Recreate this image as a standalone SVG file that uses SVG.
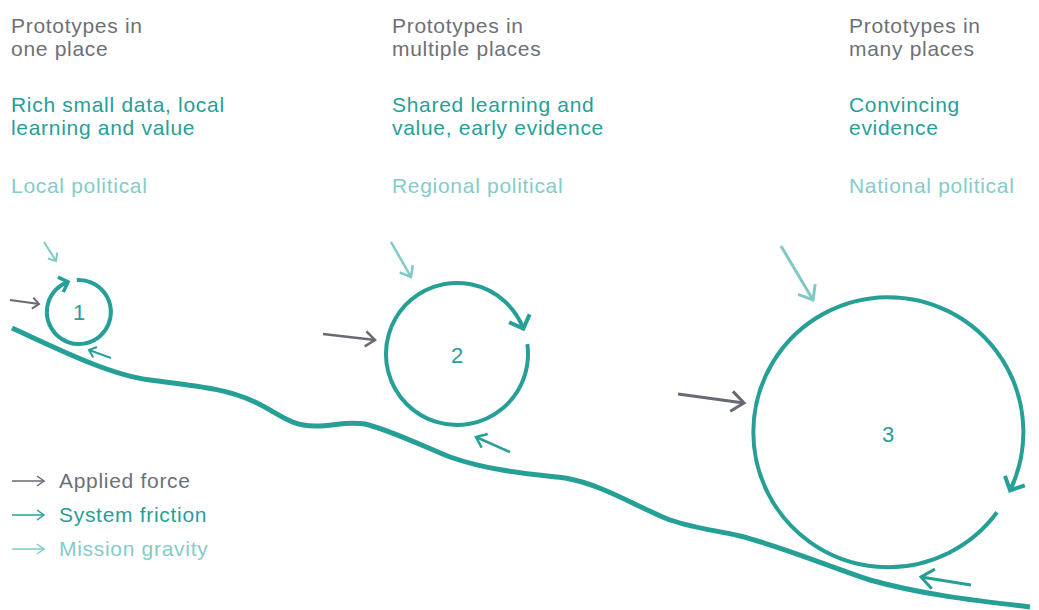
<svg xmlns="http://www.w3.org/2000/svg" width="1039" height="610" viewBox="0 0 1039 610">
<style>
text{font-family:"Liberation Sans",Arial,sans-serif;font-size:21px;letter-spacing:0.7px}
.g{fill:#6d7078}.t{fill:#26a096}.l{fill:#84ccc7}
.num{font-size:22px;text-anchor:middle;fill:#26a096;letter-spacing:0}
.ring{fill:none;stroke:#26a096;stroke-width:4}
.ag{stroke:#676a72;fill:none}.at{stroke:#26a096;fill:none}.al{stroke:#7fcac5;fill:none}
.s{stroke-width:2}.m{stroke-width:2.5}.b{stroke-width:3}.x{stroke-width:1.5}
</style>
<defs>
<marker id="gs" markerUnits="userSpaceOnUse" orient="auto" markerWidth="30" markerHeight="30" overflow="visible"><path d="M-6.5,-5.5L0,0L-6.5,5.5" fill="none" stroke="#676a72" stroke-width="2"/></marker>
<marker id="gm" markerUnits="userSpaceOnUse" orient="auto" markerWidth="30" markerHeight="30" overflow="visible"><path d="M-9.5,-7.5L0,0L-9.5,7.5" fill="none" stroke="#676a72" stroke-width="2.5"/></marker>
<marker id="gl" markerUnits="userSpaceOnUse" orient="auto" markerWidth="30" markerHeight="30" overflow="visible"><path d="M-12.5,-10L0,0L-12.5,10" fill="none" stroke="#676a72" stroke-width="3"/></marker>
<marker id="ts" markerUnits="userSpaceOnUse" orient="auto" markerWidth="30" markerHeight="30" overflow="visible"><path d="M-6.5,-5.5L0,0L-6.5,5.5" fill="none" stroke="#26a096" stroke-width="2"/></marker>
<marker id="tm" markerUnits="userSpaceOnUse" orient="auto" markerWidth="30" markerHeight="30" overflow="visible"><path d="M-9.5,-7.5L0,0L-9.5,7.5" fill="none" stroke="#26a096" stroke-width="2.5"/></marker>
<marker id="tl" markerUnits="userSpaceOnUse" orient="auto" markerWidth="30" markerHeight="30" overflow="visible"><path d="M-12.5,-10L0,0L-12.5,10" fill="none" stroke="#26a096" stroke-width="3"/></marker>
<marker id="ls" markerUnits="userSpaceOnUse" orient="auto" markerWidth="30" markerHeight="30" overflow="visible"><path d="M-6.5,-5.5L0,0L-6.5,5.5" fill="none" stroke="#7fcac5" stroke-width="2"/></marker>
<marker id="lm" markerUnits="userSpaceOnUse" orient="auto" markerWidth="30" markerHeight="30" overflow="visible"><path d="M-9.5,-7.5L0,0L-9.5,7.5" fill="none" stroke="#7fcac5" stroke-width="2.5"/></marker>
<marker id="ll" markerUnits="userSpaceOnUse" orient="auto" markerWidth="30" markerHeight="30" overflow="visible"><path d="M-12.5,-10L0,0L-12.5,10" fill="none" stroke="#7fcac5" stroke-width="3"/></marker>
<marker id="gx" markerUnits="userSpaceOnUse" orient="auto" markerWidth="30" markerHeight="30" overflow="visible"><path d="M-7,-5L0,0L-7,5" fill="none" stroke="#676a72" stroke-width="1.5"/></marker>
<marker id="tx" markerUnits="userSpaceOnUse" orient="auto" markerWidth="30" markerHeight="30" overflow="visible"><path d="M-7,-5L0,0L-7,5" fill="none" stroke="#26a096" stroke-width="1.5"/></marker>
<marker id="lx" markerUnits="userSpaceOnUse" orient="auto" markerWidth="30" markerHeight="30" overflow="visible"><path d="M-7,-5L0,0L-7,5" fill="none" stroke="#7fcac5" stroke-width="1.5"/></marker>
<marker id="rs" markerUnits="userSpaceOnUse" orient="auto" markerWidth="30" markerHeight="30" overflow="visible"><path d="M-8,-8L0,0L-8,8" fill="none" stroke="#26a096" stroke-width="3.5"/></marker>
<marker id="rl" markerUnits="userSpaceOnUse" orient="auto" markerWidth="30" markerHeight="30" overflow="visible"><path d="M-11,-11L0,0L-11,11" fill="none" stroke="#26a096" stroke-width="4"/></marker>
</defs>
<rect width="1039" height="610" fill="#ffffff"/>

<g id="col1">
<text class="g" x="11" y="33">Prototypes in</text>
<text class="g" x="11" y="56">one place</text>
<text class="t" x="11" y="112">Rich small data, local</text>
<text class="t" x="11" y="135">learning and value</text>
<text class="l" x="11" y="193">Local political</text>
</g>
<g id="col2">
<text class="g" x="392" y="33">Prototypes in</text>
<text class="g" x="392" y="56">multiple places</text>
<text class="t" x="392" y="112">Shared learning and</text>
<text class="t" x="392" y="135">value, early evidence</text>
<text class="l" x="392" y="193">Regional political</text>
</g>
<g id="col3">
<text class="g" x="849" y="33">Prototypes in</text>
<text class="g" x="849" y="56">many places</text>
<text class="t" x="849" y="112">Convincing</text>
<text class="t" x="849" y="135">evidence</text>
<text class="l" x="849" y="193">National political</text>
</g>

<g id="ground">
<path d="M12,328 C60,350 110,375 150,380 C195,386 225,388 255,402 C280,414 290,426 315,426 C335,426 345,421 365,424 C390,430 420,445 450,457 C490,471 530,474 565,478 C600,484 630,503 665,518 C690,528 715,530 740,536 C780,546 830,567 870,580 C920,594 970,600 1030,607" fill="none" stroke="#26a096" stroke-width="5"/>
</g>

<g id="circle1">
<path class="ring" d="M76.8,280.1 A32,32 0 1 1 68.1,281.9" marker-end="url(#rs)"/>
<text class="num" x="79" y="320">1</text>
</g>
<g id="circle2">
<path class="ring" d="M527.3,344.1 A71,71 0 1 1 523.3,328.6" marker-end="url(#rl)"/>
<text class="num" x="457" y="363">2</text>
</g>
<g id="circle3">
<path class="ring" d="M997,512.3 A135,135 0 1 1 1010.1,490.5" marker-end="url(#rl)"/>
<text class="num" x="888" y="442">3</text>
</g>

<g id="connectors">
<line class="ag s" x1="10" y1="300" x2="39" y2="304" marker-end="url(#gs)"/>
<line class="ag m" x1="323" y1="334" x2="375" y2="340" marker-end="url(#gm)"/>
<line class="ag b" x1="678" y1="394" x2="744" y2="403" marker-end="url(#gl)"/>
<line class="al s" x1="44" y1="242" x2="56" y2="261" marker-end="url(#ls)"/>
<line class="al m" x1="391" y1="242" x2="411" y2="277" marker-end="url(#lm)"/>
<line class="al b" x1="781" y1="246" x2="813" y2="300" marker-end="url(#ll)"/>
<line class="at s" x1="111" y1="358" x2="89" y2="350" marker-end="url(#ts)"/>
<line class="at m" x1="510" y1="452" x2="476" y2="437" marker-end="url(#tm)"/>
<line class="at b" x1="971" y1="585" x2="921" y2="577" marker-end="url(#tl)"/>
</g>

<g id="legend">
<line class="ag x" x1="12" y1="481" x2="44" y2="481" marker-end="url(#gx)"/>
<text class="g" x="59" y="488">Applied force</text>
<line class="at x" x1="12" y1="515" x2="44" y2="515" marker-end="url(#tx)"/>
<text class="t" x="59" y="522">System friction</text>
<line class="al x" x1="12" y1="549" x2="44" y2="549" marker-end="url(#lx)"/>
<text class="l" x="59" y="556">Mission gravity</text>
</g>
</svg>
